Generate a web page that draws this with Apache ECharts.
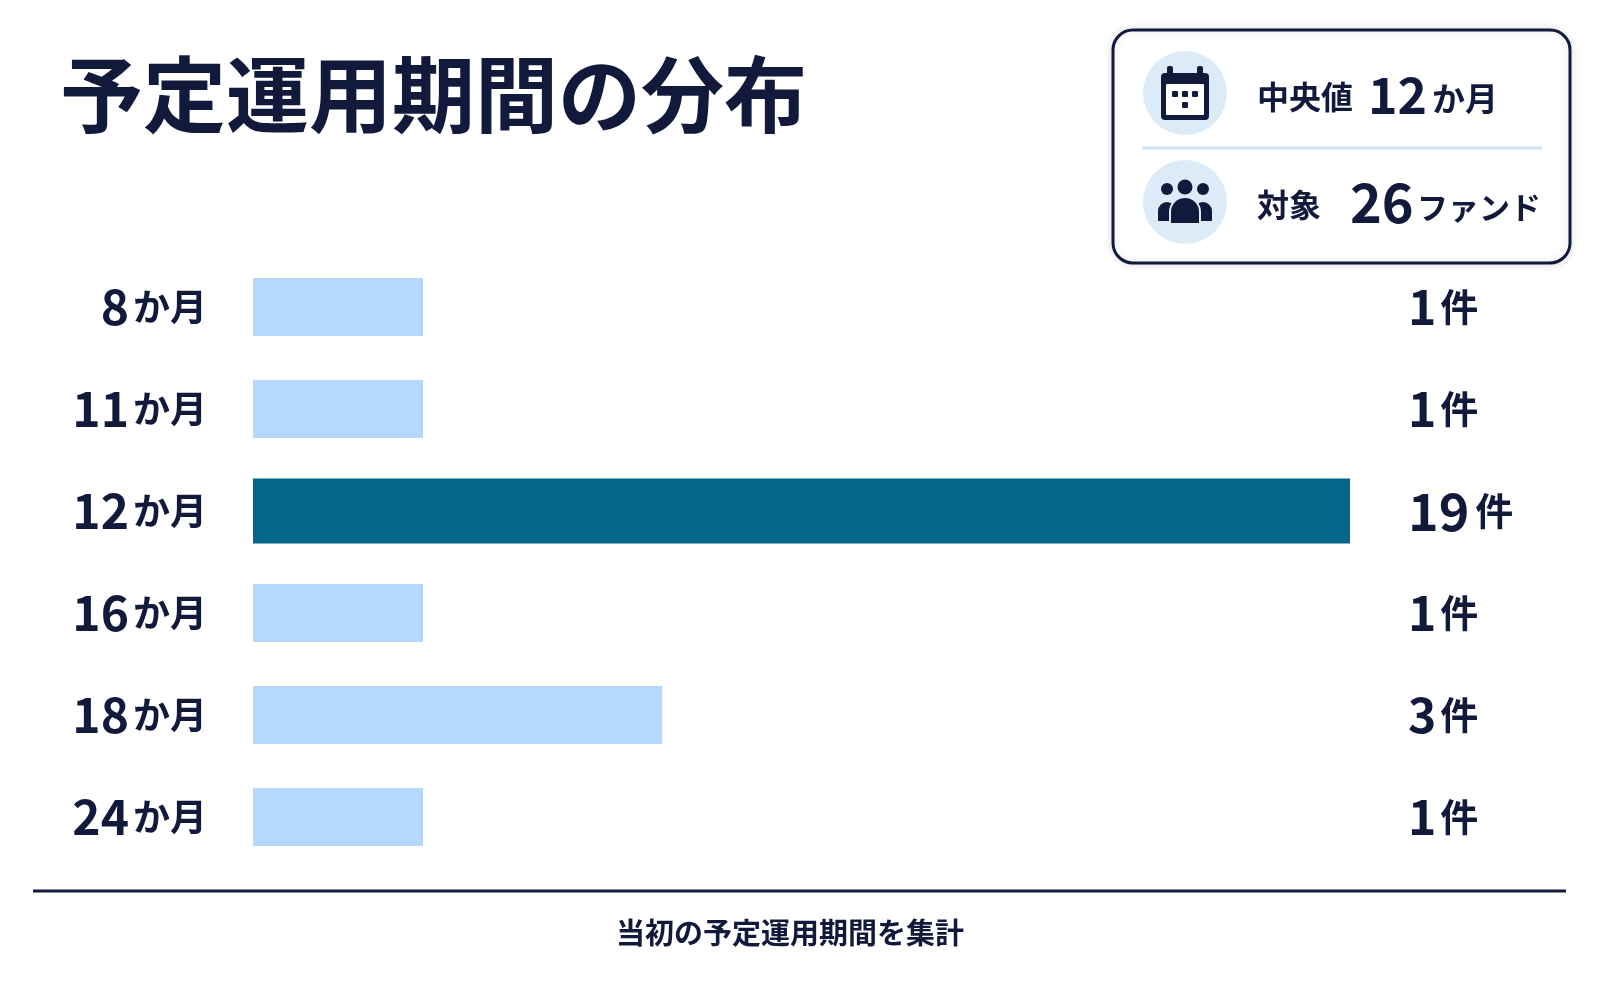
<!DOCTYPE html>
<html>
<head lang="ja">
    <meta charset="UTF-8">
    <title>予定運用期間の分布</title>
    <script src="https://cdn.jsdelivr.net/npm/echarts@6/dist/echarts.min.js"></script>
    <style>
        html, body { margin: 0; padding: 0; background: #ffffff; }
        #main { width: 1600px; height: 983px; }
    </style>
</head>
<body>
<div id="main"></div>
<script>
// データ
var months = [8, 11, 12, 16, 18, 24];      // 予定運用期間（か月）
var counts = [1, 1, 19, 1, 3, 1];          // 件数
var medianMonth = 12;                      // 中央値
var fundTotal = 26;                        // 対象ファンド数

var navy = '#121a3c';
var hi = months.indexOf(medianMonth);

// 強調する棒とそれ以外を分ける
var lightData = counts.map(function (c, i) { return i === hi ? '-' : c; });
var darkData = counts.map(function (c, i) { return i === hi ? c : '-'; });

var myChart = echarts.init(document.getElementById('main'));

var font = '"Noto Sans CJK JP", "Noto Sans", sans-serif';

// 人物アイコン（頭＋半円の胴体）
function person(cx, headY, headR, bodyY, bodyR, bottom, fill) {
    return [
        { type: 'circle', shape: { cx: cx, cy: headY, r: headR }, style: { fill: fill } },
        { type: 'sector', shape: { cx: cx, cy: bodyY, r: bodyR, r0: 0, startAngle: Math.PI, endAngle: Math.PI * 2 }, style: { fill: fill } },
        { type: 'rect', shape: { x: cx - bodyR, y: bodyY - 0.5, width: bodyR * 2, height: bottom - bodyY + 0.5 }, style: { fill: fill } }
    ];
}

var icons = [].concat(
    person(1167, 189, 6, 211, 9, 221, navy),
    person(1203, 189, 6, 211, 9, 221, navy),
    person(1185, 187, 9.5, 212, 16, 225, '#dcebf8'),
    person(1185, 187, 7.5, 212, 14, 223, navy)
);

option = {
    backgroundColor: '#ffffff',
    textStyle: { fontFamily: font, color: navy },
    grid: { left: 253, right: 250, top: 256, bottom: 115 },
    xAxis: {
        type: 'log', logBase: 10, min: 1, max: 19,
        show: false
    },
    yAxis: [
        {
            type: 'category', inverse: true, data: months,
            axisLine: { show: false }, axisTick: { show: false },
            axisLabel: {
                margin: 46,
                formatter: function (v) { return '{n|' + v + '}{u|か月}'; },
                rich: {
                    n: { fontSize: 48, fontWeight: 'bold', color: navy, fontFamily: font, padding: [0, 4, 0, 0] },
                    u: { fontSize: 37, fontWeight: 'bold', color: navy, fontFamily: font }
                }
            }
        },
        {
            type: 'category', inverse: true, data: months, position: 'right',
            axisLine: { show: false }, axisTick: { show: false },
            axisLabel: {
                margin: 58, align: 'left',
                formatter: function (v, i) {
                    var k = i === hi ? 'nb' : 'n';
                    return '{' + k + '|' + counts[i] + '}{u|件}';
                },
                rich: {
                    n: { fontSize: 48, fontWeight: 'bold', color: navy, fontFamily: font, padding: [0, 4, 0, 0] },
                    nb: { fontSize: 52, fontWeight: 'bold', color: navy, fontFamily: font, padding: [0, 6, 0, 0] },
                    u: { fontSize: 38, fontWeight: 'bold', color: navy, fontFamily: font }
                }
            }
        }
    ],
    series: [
        {
            type: 'bar', yAxisIndex: 0, data: lightData,
            barWidth: 58, barMinHeight: 170,
            itemStyle: { color: '#b6d8fc' },
            silent: true
        },
        {
            type: 'bar', yAxisIndex: 1, data: darkData,
            barWidth: 65, barMinHeight: 170,
            itemStyle: { color: '#03678a' },
            silent: true
        }
    ],
    graphic: [
        // タイトル
        {
            type: 'text', x: 60, y: 94,
            style: { text: '予定運用期間の分布', fontSize: 83, fontWeight: 'bold', fill: navy, fontFamily: font, verticalAlign: 'middle' }
        },
        // 右上のボックス
        {
            type: 'rect', shape: { x: 1113, y: 30, width: 457, height: 233, r: 20 },
            style: { fill: '#ffffff', stroke: navy, lineWidth: 3, shadowBlur: 8, shadowColor: 'rgba(18,26,60,0.12)' }
        },
        { type: 'circle', shape: { cx: 1185, cy: 93, r: 42 }, style: { fill: '#dcebf8' } },
        { type: 'circle', shape: { cx: 1185, cy: 202, r: 42 }, style: { fill: '#dcebf8' } },
        { type: 'line', shape: { x1: 1142, y1: 148, x2: 1542, y2: 148 }, style: { stroke: '#cfe4f3', lineWidth: 3 } },
        // カレンダーアイコン
        { type: 'rect', shape: { x: 1161, y: 73, width: 48, height: 47, r: 4 }, style: { fill: navy } },
        { type: 'rect', shape: { x: 1166, y: 84, width: 38, height: 31, r: 1 }, style: { fill: '#ffffff' } },
        { type: 'rect', shape: { x: 1167, y: 66, width: 6, height: 13, r: 2 }, style: { fill: navy } },
        { type: 'rect', shape: { x: 1197, y: 66, width: 6, height: 13, r: 2 }, style: { fill: navy } },
        { type: 'rect', shape: { x: 1172, y: 91, width: 6, height: 6, r: 1 }, style: { fill: navy } },
        { type: 'rect', shape: { x: 1182, y: 91, width: 6, height: 6, r: 1 }, style: { fill: navy } },
        { type: 'rect', shape: { x: 1192, y: 91, width: 6, height: 6, r: 1 }, style: { fill: navy } },
        { type: 'rect', shape: { x: 1182, y: 102, width: 6, height: 6, r: 1 }, style: { fill: navy } }
    ].concat(icons).concat([
        // ボックス内のテキスト
        { type: 'text', x: 1257, y: 97, style: { text: '中央値', fontSize: 32, fontWeight: 'bold', fill: navy, fontFamily: font, verticalAlign: 'middle' } },
        { type: 'text', x: 1368, y: 95, style: { text: String(medianMonth), fontSize: 50, fontWeight: 'bold', fill: navy, fontFamily: font, verticalAlign: 'middle' } },
        { type: 'text', x: 1432, y: 98, style: { text: 'か月', fontSize: 33, fontWeight: 'bold', fill: navy, fontFamily: font, verticalAlign: 'middle' } },
        { type: 'text', x: 1257, y: 205, style: { text: '対象', fontSize: 32, fontWeight: 'bold', fill: navy, fontFamily: font, verticalAlign: 'middle' } },
        { type: 'text', x: 1350, y: 202, style: { text: String(fundTotal), fontSize: 54, fontWeight: 'bold', fill: navy, fontFamily: font, verticalAlign: 'middle' } },
        { type: 'text', x: 1417, y: 207, style: { text: 'ファンド', fontSize: 31, fontWeight: 'bold', fill: navy, fontFamily: font, verticalAlign: 'middle' } },
        // 下の区切り線と注記
        { type: 'line', shape: { x1: 33, y1: 891, x2: 1566, y2: 891 }, style: { stroke: navy, lineWidth: 3 } },
        {
            type: 'text', x: 790, y: 933,
            style: { text: '当初の予定運用期間を集計', fontSize: 29, fontWeight: 'bold', fill: navy, fontFamily: font, align: 'center', verticalAlign: 'middle' }
        }
    ])
};

myChart.setOption(option, true);
</script>
</body>
</html>
